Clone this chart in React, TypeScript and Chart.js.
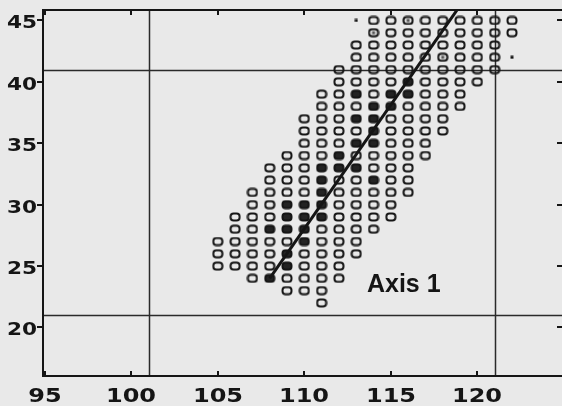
import React, { useEffect, useRef } from "react";
import { Chart, registerables } from "chart.js";

Chart.register(...registerables);

// ---- data ----
const xTicks = [95, 100, 105, 110, 115, 120];
const yTicks = [20, 25, 30, 35, 40, 45];

const rowY = [45, 44, 43, 42, 41, 40, 39, 38, 37, 36, 35, 34, 33, 32, 31, 30, 29, 28, 27, 26, 25, 24, 23, 22];
const rowX: number[][] = [
  [114, 115, 116, 117, 118, 119, 120, 121, 122],
  [114, 115, 116, 117, 118, 119, 120, 121, 122],
  [113, 114, 115, 116, 117, 118, 119, 120, 121],
  [113, 114, 115, 116, 117, 118, 119, 120, 121],
  [112, 113, 114, 115, 116, 117, 118, 119, 120, 121],
  [112, 113, 114, 115, 116, 117, 118, 119, 120],
  [111, 112, 113, 114, 115, 116, 117, 118, 119],
  [111, 112, 113, 114, 115, 116, 117, 118, 119],
  [110, 111, 112, 113, 114, 115, 116, 117, 118],
  [110, 111, 112, 113, 114, 115, 116, 117, 118],
  [110, 111, 112, 113, 114, 115, 116, 117],
  [109, 110, 111, 112, 113, 114, 115, 116, 117],
  [108, 109, 110, 111, 112, 113, 114, 115, 116],
  [108, 109, 110, 111, 112, 113, 114, 115, 116],
  [107, 108, 109, 110, 111, 112, 113, 114, 115, 116],
  [107, 108, 109, 110, 111, 112, 113, 114, 115],
  [106, 107, 108, 109, 110, 111, 112, 113, 114, 115],
  [106, 107, 108, 109, 110, 111, 112, 113, 114],
  [105, 106, 107, 108, 109, 110, 111, 112, 113],
  [105, 106, 107, 108, 109, 110, 111, 112, 113],
  [105, 106, 107, 108, 109, 110, 111, 112],
  [107, 108, 109, 110, 111, 112],
  [109, 110, 111],
  [111],
];
const rowFilled: number[][] = [
  [], [], [], [], [],
  [116],
  [113, 115, 116],
  [114, 115],
  [113, 114],
  [114],
  [113, 114],
  [112],
  [111, 112, 113],
  [111, 114],
  [111],
  [109, 110, 111],
  [109, 110, 111],
  [108, 109, 110],
  [110],
  [109],
  [109],
  [108],
  [],
  [],
];
const dottedX = [116, 114, 118];
const dottedY = [45, 44, 42];
const tinyX = [113, 122];
const tinyY = [45, 42];

const axisLineX = [108, 119];
const axisLineY = [24, 46.2];

const refX = [101, 121];
const refY = [21, 41];

const labelText = "Axis 1";
const labelX = 115.75;
const labelY = 22.9;

// ---- styles ----
const INK = "#151515";
const BG = "#e9e9e9";

function roundPath(g: CanvasRenderingContext2D, x: number, y: number, w: number, h: number, r: number) {
  g.beginPath();
  g.moveTo(x + r, y);
  g.lineTo(x + w - r, y);
  g.arcTo(x + w, y, x + w, y + r, r);
  g.lineTo(x + w, y + h - r);
  g.arcTo(x + w, y + h, x + w - r, y + h, r);
  g.lineTo(x + r, y + h);
  g.arcTo(x, y + h, x, y + h - r, r);
  g.lineTo(x, y + r);
  g.arcTo(x, y, x + r, y, r);
  g.closePath();
}

function makeMarker(kind: "open" | "filled" | "dotted" | "tiny"): HTMLCanvasElement {
  const c = document.createElement("canvas");
  if (kind === "tiny") {
    c.width = 4;
    c.height = 4;
    const g = c.getContext("2d")!;
    g.fillStyle = INK;
    g.fillRect(0.5, 0.5, 3, 3);
    return c;
  }
  c.width = 12;
  c.height = 10;
  const g = c.getContext("2d")!;
  g.lineWidth = 2;
  g.strokeStyle = INK;
  roundPath(g, 1.5, 1.5, 9, 7, 3);
  if (kind === "filled") {
    g.fillStyle = "#232323";
    g.fill();
  }
  g.stroke();
  if (kind === "dotted") {
    g.fillStyle = "#555";
    g.fillRect(4.5, 3.5, 3, 3);
  }
  return c;
}

export default function App() {
  const ref = useRef<HTMLCanvasElement>(null);

  useEffect(() => {
    document.body.style.margin = "0";
    document.body.style.background = BG;
    const canvas = ref.current!;

    const openPts: { x: number; y: number }[] = [];
    const filledPts: { x: number; y: number }[] = [];
    const dottedPts: { x: number; y: number }[] = [];
    rowY.forEach((y, i) => {
      rowX[i].forEach((x) => {
        const isDotted = dottedX.some((dx, k) => dx === x && dottedY[k] === y);
        if (isDotted) dottedPts.push({ x, y });
        else if (rowFilled[i].includes(x)) filledPts.push({ x, y });
        else openPts.push({ x, y });
      });
    });
    const tinyPts = tinyX.map((x, i) => ({ x, y: tinyY[i] }));
    const linePts = axisLineX.map((x, i) => ({ x, y: axisLineY[i] }));

    const decor = {
      id: "decor",
      beforeDraw(chart: any) {
        const { ctx, width, height } = chart;
        ctx.save();
        ctx.fillStyle = BG;
        ctx.fillRect(0, 0, width, height);
        ctx.restore();
      },
      beforeDatasetsDraw(chart: any) {
        const { ctx, chartArea: a, scales } = chart;
        ctx.save();
        ctx.strokeStyle = "#2a2a2a";
        ctx.lineWidth = 1.5;
        refX.forEach((v) => {
          const p = Math.round(scales.x.getPixelForValue(v)) + 0.5;
          ctx.beginPath();
          ctx.moveTo(p, a.top);
          ctx.lineTo(p, a.bottom);
          ctx.stroke();
        });
        refY.forEach((v) => {
          const p = Math.round(scales.y.getPixelForValue(v)) + 0.5;
          ctx.beginPath();
          ctx.moveTo(a.left, p);
          ctx.lineTo(a.right, p);
          ctx.stroke();
        });
        ctx.restore();
      },
      afterDatasetsDraw(chart: any) {
        const { ctx, chartArea: a, scales } = chart;
        ctx.save();
        ctx.strokeStyle = INK;
        ctx.lineWidth = 2;
        ctx.strokeRect(a.left, a.top, a.right - a.left, a.bottom - a.top);
        ctx.lineWidth = 2;
        // x ticks
        scales.x.ticks.forEach((t: any) => {
          const p = Math.round(scales.x.getPixelForValue(t.value));
          ctx.beginPath();
          ctx.moveTo(p, a.bottom);
          ctx.lineTo(p, a.bottom - 5);
          ctx.moveTo(p, a.top);
          ctx.lineTo(p, a.top + 5);
          ctx.stroke();
          ctx.save();
          ctx.translate(p, 402);
          ctx.scale(1.2, 1);
          ctx.fillStyle = INK;
          ctx.font = 'bold 20px "DejaVu Sans"';
          ctx.textAlign = "center";
          ctx.textBaseline = "alphabetic";
          ctx.fillText(String(t.value), 0, 0);
          ctx.restore();
        });
        // y ticks
        scales.y.ticks.forEach((t: any) => {
          const p = Math.round(scales.y.getPixelForValue(t.value));
          ctx.beginPath();
          ctx.moveTo(a.left, p);
          ctx.lineTo(a.left - 6, p);
          ctx.moveTo(a.right, p);
          ctx.lineTo(a.right - 6, p);
          ctx.stroke();
          ctx.save();
          ctx.translate(37, p + 8);
          ctx.scale(1.2, 1);
          ctx.fillStyle = INK;
          ctx.font = 'bold 18px "DejaVu Sans"';
          ctx.textAlign = "right";
          ctx.textBaseline = "alphabetic";
          ctx.fillText(String(t.value), 0, 0);
          ctx.restore();
        });
        // label
        ctx.fillStyle = INK;
        ctx.font = 'bold 25px "Liberation Sans", Arial, sans-serif';
        ctx.textAlign = "center";
        ctx.textBaseline = "alphabetic";
        ctx.fillText(labelText, scales.x.getPixelForValue(labelX), scales.y.getPixelForValue(labelY));
        ctx.restore();
      },
    };

    const chart = new Chart(canvas, {
      type: "scatter",
      data: {
        datasets: [
          {
            data: linePts,
            showLine: true,
            borderColor: INK,
            borderWidth: 3,
            pointRadius: 0,
            order: 0,
          } as any,
          { data: openPts, pointStyle: makeMarker("open"), pointRadius: 6, order: 1 } as any,
          { data: filledPts, pointStyle: makeMarker("filled"), pointRadius: 6, order: 1 } as any,
          { data: dottedPts, pointStyle: makeMarker("dotted"), pointRadius: 6, order: 1 } as any,
          { data: tinyPts, pointStyle: makeMarker("tiny"), pointRadius: 2, order: 1 } as any,
        ],
      },
      options: {
        animation: false,
        responsive: false,
        devicePixelRatio: 1,
        layout: { padding: { top: 10, right: 6, left: 0, bottom: 0 } },
        plugins: { legend: { display: false }, tooltip: { enabled: false } },
        events: [],
        scales: {
          x: {
            type: "linear",
            min: 94.9,
            max: 124.95,
            grid: { display: false },
            border: { display: false },
            ticks: { display: false },
            afterBuildTicks: (s: any) => {
              s.ticks = xTicks.map((v) => ({ value: v }));
            },
            afterFit: (s: any) => {
              s.height = 30;
            },
          },
          y: {
            type: "linear",
            min: 16.05,
            max: 45.85,
            grid: { display: false },
            border: { display: false },
            ticks: { display: false },
            afterBuildTicks: (s: any) => {
              s.ticks = yTicks.map((v) => ({ value: v }));
            },
            afterFit: (s: any) => {
              s.width = 43;
            },
          },
        },
      } as any,
      plugins: [decor],
    });
    return () => chart.destroy();
  }, []);

  return (
    <div style={{ width: 562, height: 406, overflow: "hidden" }}>
      <canvas ref={ref} width={570} height={406} style={{ display: "block" }} />
    </div>
  );
}
